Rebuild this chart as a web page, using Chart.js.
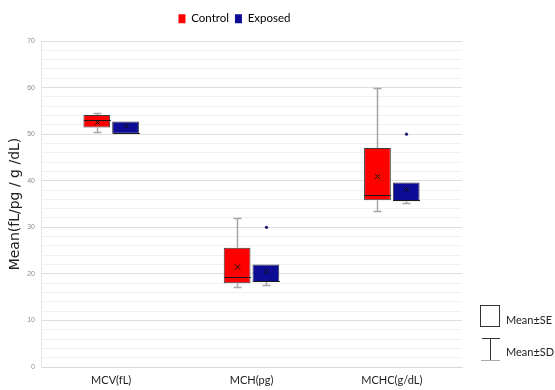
<!DOCTYPE html>
<html>
<head>
<meta charset="utf-8">
<script src="https://cdn.jsdelivr.net/npm/chart.js@4.4.0/dist/chart.umd.min.js"></script>
<style>
  html, body { margin: 0; padding: 0; background: #fff; }
</style>
</head>
<body>
<canvas id="boxChart" width="555" height="390"></canvas>
<script>
const categories = ['MCV(fL)', 'MCH(pg)', 'MCHC(g/dL)'];

// Control group
const controlMin = [50.4, 17.2, 33.4];
const controlQ1 = [51.4, 18.0, 35.8];
const controlMedian = [53.0, 19.3, 36.9];
const controlQ3 = [54.1, 25.6, 47.0];
const controlMax = [54.6, 32.0, 60.0];
const controlMean = [52.5, 21.5, 40.9];
const controlOutliers = [[], [], []];

// Exposed group
const exposedMin = [50.0, 17.6, 35.2];
const exposedQ1 = [50.1, 18.25, 35.6];
const exposedMedian = [50.3, 18.5, 35.8];
const exposedQ3 = [52.7, 22.0, 39.6];
const exposedMax = [52.7, 22.0, 39.6];
const exposedMean = [51.75, 20.5, 38.1];
const exposedOutliers = [[], [30.0], [50.0]];

const yTicks = [0, 10, 20, 30, 40, 50, 60, 70];

const groups = [
  { min: controlMin, q1: controlQ1, med: controlMedian, q3: controlQ3, max: controlMax, mean: controlMean, out: controlOutliers },
  { min: exposedMin, q1: exposedQ1, med: exposedMedian, q3: exposedQ3, max: exposedMax, mean: exposedMean, out: exposedOutliers }
];

const labelFont = 'Lato, "Liberation Sans", sans-serif';

const boxExtras = {
  id: 'boxExtras',
  afterInit(chart) {
    // extra room under the legend, like the reference
    const legend = chart.legend;
    const fit = legend.fit;
    legend.fit = function () {
      fit.call(this);
      this.height += 6.5;
    };
  },
  afterDatasetsDraw(chart) {
    const ctx = chart.ctx;
    const y = chart.scales.y;
    groups.forEach((g, di) => {
      const meta = chart.getDatasetMeta(di);
      meta.data.forEach((bar, i) => {
        const x = Math.round(bar.x) + 0.5;
        const w = bar.width;
        const top = y.getPixelForValue(g.q3[i]);
        const bot = y.getPixelForValue(g.q1[i]);
        const hi = Math.round(y.getPixelForValue(g.max[i])) + 0.5;
        const lo = Math.round(y.getPixelForValue(g.min[i])) + 0.5;
        ctx.save();
        // whiskers
        ctx.strokeStyle = '#a6a6a6';
        ctx.lineWidth = 1.5;
        ctx.beginPath();
        if (hi < top - 1) {
          ctx.moveTo(x, top);
          ctx.lineTo(x, hi);
          ctx.moveTo(x - 4, hi);
          ctx.lineTo(x + 4, hi);
        }
        if (lo > bot + 1) {
          ctx.moveTo(x, bot);
          ctx.lineTo(x, lo);
          ctx.moveTo(x - 4, lo);
          ctx.lineTo(x + 4, lo);
        }
        ctx.stroke();
        // median
        ctx.strokeStyle = '#1a1a1a';
        ctx.lineWidth = 1;
        const my = Math.round(y.getPixelForValue(g.med[i])) + 0.5;
        ctx.beginPath();
        ctx.moveTo(x - w / 2, my);
        ctx.lineTo(x + w / 2, my);
        ctx.stroke();
        // mean marker
        const mny = y.getPixelForValue(g.mean[i]);
        ctx.strokeStyle = '#111';
        ctx.beginPath();
        ctx.moveTo(x - 2.5, mny - 2.5);
        ctx.lineTo(x + 2.5, mny + 2.5);
        ctx.moveTo(x + 2.5, mny - 2.5);
        ctx.lineTo(x - 2.5, mny + 2.5);
        ctx.stroke();
        // outliers
        ctx.fillStyle = '#1a1a6e';
        g.out[i].forEach(v => {
          ctx.beginPath();
          ctx.arc(x, y.getPixelForValue(v), 1.6, 0, Math.PI * 2);
          ctx.fill();
        });
        ctx.restore();
      });
    });
  },
  afterDraw(chart) {
    // key for box and whisker meaning
    const ctx = chart.ctx;
    ctx.save();
    ctx.strokeStyle = '#333';
    ctx.lineWidth = 1;
    ctx.strokeRect(480.5, 305.5, 19, 21);
    ctx.beginPath();
    ctx.moveTo(490.5, 338);
    ctx.lineTo(490.5, 361);
    ctx.moveTo(482, 338.5);
    ctx.lineTo(500, 338.5);
    ctx.stroke();
    ctx.strokeStyle = '#aaa';
    ctx.beginPath();
    ctx.moveTo(481, 360.5);
    ctx.lineTo(500, 360.5);
    ctx.stroke();
    ctx.fillStyle = '#222';
    ctx.font = '11px ' + labelFont;
    ctx.textBaseline = 'middle';
    ctx.fillText('Mean\u00b1SE', 506, 320);
    ctx.fillText('Mean\u00b1SD', 506, 352);
    ctx.restore();
  }
};

new Chart(document.getElementById('boxChart').getContext('2d'), {
  type: 'bar',
  data: {
    labels: categories,
    datasets: [
      {
        label: 'Control',
        data: controlQ1.map((v, i) => [v, controlQ3[i]]),
        backgroundColor: '#ff0000',
        borderColor: '#3a3a3a',
        borderWidth: 1,
        borderSkipped: false
      },
      {
        label: 'Exposed',
        data: exposedQ1.map((v, i) => [v, exposedQ3[i]]),
        backgroundColor: '#0c0c96',
        borderColor: '#3a3a3a',
        borderWidth: 1,
        borderSkipped: false
      }
    ]
  },
  options: {
    responsive: false,
    animation: false,
    categoryPercentage: 0.41,
    barPercentage: 0.93,
    layout: { padding: { right: 93, top: 7, left: 7 } },
    plugins: {
      legend: {
        position: 'top',
        labels: {
          boxWidth: 7,
          boxHeight: 9,
          padding: 6,
          color: '#222',
          font: { size: 11.5, family: labelFont },
          generateLabels: chart => chart.data.datasets.map((ds, i) => ({
            text: ds.label,
            fillStyle: ds.backgroundColor,
            strokeStyle: ds.backgroundColor,
            lineWidth: 0,
            datasetIndex: i
          }))
        }
      },
      tooltip: { enabled: false }
    },
    scales: {
      x: {
        grid: { display: false, drawTicks: false },
        border: { color: '#d9d9d9' },
        ticks: {
          color: '#222',
          padding: 7,
          font: { size: 11, family: labelFont }
        },
        afterFit: s => { s.height = 23; }
      },
      y: {
        min: 0,
        max: 70,
        ticks: {
          stepSize: 2,
          autoSkip: false,
          color: '#8c8c8c',
          padding: 6,
          font: { size: 7 },
          callback: v => (yTicks.includes(v) ? v : '')
        },
        grid: {
          drawTicks: false,
          color: c => (c.tick && c.tick.value % 10 === 0 ? '#dedede' : '#f1f1f1')
        },
        border: { color: '#e6e6e6' },
        title: {
          display: true,
          text: 'Mean(fL/pg / g /dL)',
          color: '#222',
          font: { size: 14, family: '"DejaVu Sans", sans-serif' },
          padding: 0
        },
        afterFit: s => { s.width = 34; }
      }
    }
  },
  plugins: [boxExtras]
});
</script>
</body>
</html>
